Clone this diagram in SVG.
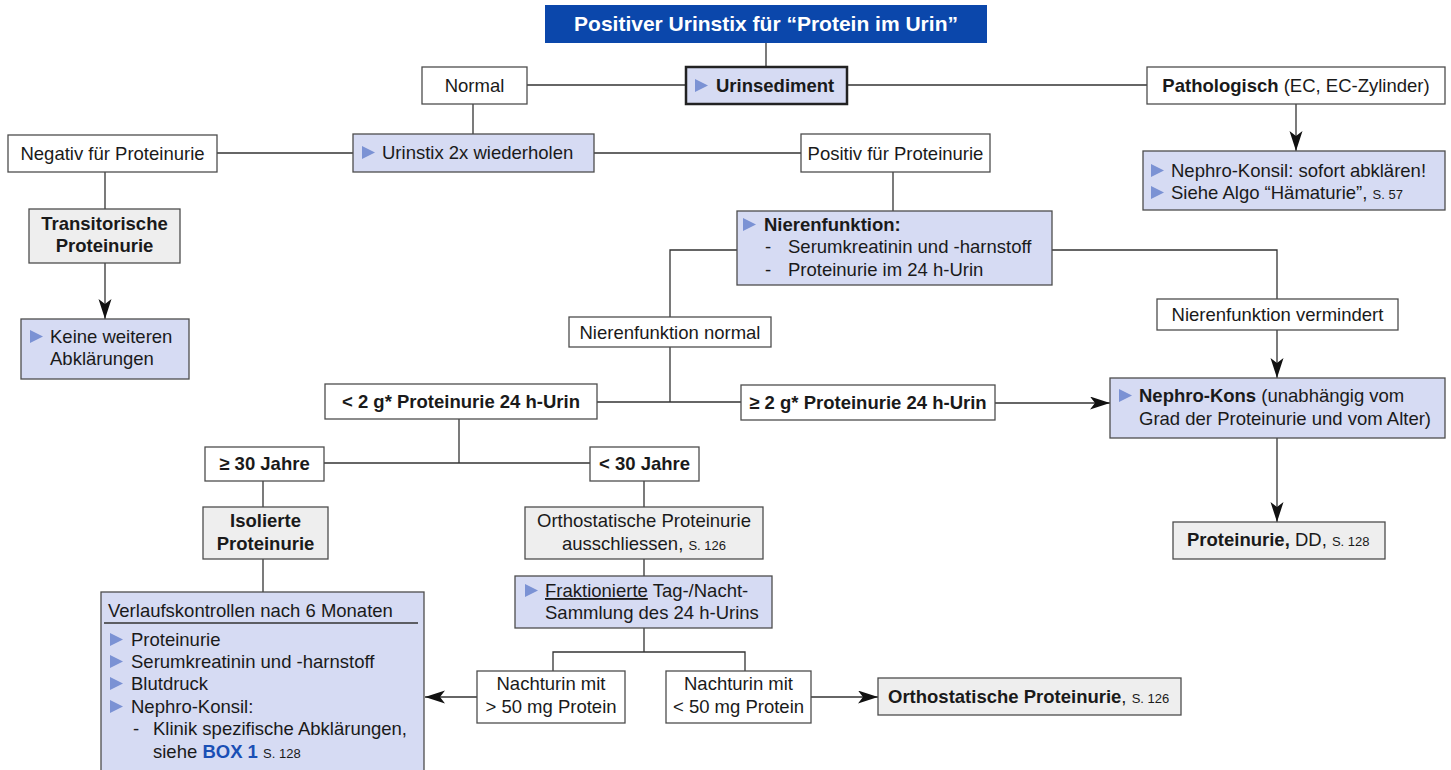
<svg xmlns="http://www.w3.org/2000/svg" xmlns:xlink="http://www.w3.org/1999/xlink" width="1451" height="770" viewBox="0 0 1451 770">
<defs>
<style>
.box{stroke:#4d4d4d;stroke-width:1.3}
.w{fill:#ffffff}
.lav{fill:#d6dbf3}
.gr{fill:#eeeeee}
.t{font-family:"Liberation Sans",Arial,sans-serif;font-size:18.5px;fill:#1a1a1a}
.b{font-weight:bold}
.s{font-size:13px;font-weight:normal}
.c{text-anchor:middle}
.conn{stroke:#333333;stroke-width:1.3;fill:none}
.arr{marker-end:url(#ah)}
</style>
<marker id="ah" markerUnits="userSpaceOnUse" markerWidth="22" markerHeight="14" refX="20" refY="6.5" orient="auto">
<path d="M0,0 L20,6.5 L0,13 L5,6.5 Z" fill="#111111"/>
</marker>
<path id="bul" d="M0,0 L13,6.5 L0,13 Z" fill="#7b92d4"/>
</defs>
<rect width="1451" height="770" fill="#ffffff"/>

<g id="connectors">
<path class="conn" d="M766,43 V67"/>
<path class="conn" d="M527,85 H686"/>
<path class="conn" d="M847,85 H1147"/>
<path class="conn arr" d="M1296,104 V151"/>
<path class="conn" d="M473,104 V134"/>
<path class="conn" d="M217,153 H353"/>
<path class="conn" d="M594,153 H801"/>
<path class="conn" d="M105,172 V209"/>
<path class="conn arr" d="M105,263 V319"/>
<path class="conn" d="M893,172 V211"/>
<path class="conn" d="M737,250 H670 V317"/>
<path class="conn" d="M1052,250 H1277 V299"/>
<path class="conn arr" d="M1277,330 V378"/>
<path class="conn" d="M670,347 V402"/>
<path class="conn" d="M597,402 H741"/>
<path class="conn arr" d="M995,403 H1110"/>
<path class="conn arr" d="M1277,438 V522"/>
<path class="conn" d="M459,419 V463"/>
<path class="conn" d="M324,463 H590"/>
<path class="conn" d="M263,481 V507"/>
<path class="conn" d="M263,559 V592"/>
<path class="conn" d="M644,481 V507"/>
<path class="conn" d="M644,559 V576"/>
<path class="conn" d="M644,628 V652 M553,671 V652 H745 V671"/>
<path class="conn arr" d="M477,697 H425"/>
<path class="conn arr" d="M811,697 H878"/>
</g>

<g id="title">
<rect x="545" y="5" width="442" height="38" fill="#0b47ab"/>
<text class="t b c" x="766" y="31" style="font-size:21px;fill:#ffffff">Positiver Urinstix für “Protein im Urin”</text>
</g>

<g id="urinsediment">
<rect x="686" y="67" width="161" height="37" class="lav" stroke="#222222" stroke-width="2.5"/>
<use xlink:href="#bul" x="695" y="79"/>
<text class="t b" x="716" y="92">Urinsediment</text>
</g>

<g id="normal">
<rect x="422" y="67" width="105" height="37" class="box w"/>
<text class="t c" x="474.5" y="92">Normal</text>
</g>

<g id="pathologisch">
<rect x="1147" y="67" width="298" height="37" class="box w"/>
<text class="t c" x="1296" y="92"><tspan class="b">Pathologisch</tspan> (EC, EC-Zylinder)</text>
</g>

<g id="nephro-konsil-sofort">
<rect x="1143" y="151" width="302" height="59" class="box lav"/>
<use xlink:href="#bul" x="1151" y="164"/>
<text class="t" x="1171" y="177">Nephro-Konsil: sofort abklären!</text>
<use xlink:href="#bul" x="1151" y="186"/>
<text class="t" x="1171" y="199">Siehe Algo “Hämaturie”, <tspan class="s">S. 57</tspan></text>
</g>

<g id="urinstix">
<rect x="353" y="134" width="241" height="38" class="box lav"/>
<use xlink:href="#bul" x="362" y="146"/>
<text class="t" x="382" y="159">Urinstix 2x wiederholen</text>
</g>

<g id="negativ">
<rect x="8" y="135" width="209" height="37" class="box w"/>
<text class="t c" x="112.5" y="160">Negativ für Proteinurie</text>
</g>

<g id="positiv">
<rect x="801" y="134" width="189" height="38" class="box w"/>
<text class="t c" x="895.5" y="160">Positiv für Proteinurie</text>
</g>

<g id="transitorische">
<rect x="29" y="209" width="151" height="54" class="box gr"/>
<text class="t b c" x="104.5" y="230">Transitorische</text>
<text class="t b c" x="104.5" y="252">Proteinurie</text>
</g>

<g id="keine-weiteren">
<rect x="21" y="319" width="168" height="60" class="box lav"/>
<use xlink:href="#bul" x="30" y="330"/>
<text class="t" x="50" y="343">Keine weiteren</text>
<text class="t" x="50" y="365">Abklärungen</text>
</g>

<g id="nierenfunktion">
<rect x="737" y="211" width="315" height="74" class="box lav"/>
<use xlink:href="#bul" x="743" y="218"/>
<text class="t b" x="764" y="231">Nierenfunktion:</text>
<text class="t" x="765" y="253">-</text>
<text class="t" x="788" y="253">Serumkreatinin und -harnstoff</text>
<text class="t" x="765" y="276">-</text>
<text class="t" x="788" y="276">Proteinurie im 24 h-Urin</text>
</g>

<g id="nierenfunktion-normal">
<rect x="569" y="317" width="202" height="30" class="box w"/>
<text class="t c" x="670" y="339">Nierenfunktion normal</text>
</g>

<g id="nierenfunktion-vermindert">
<rect x="1157" y="299" width="241" height="31" class="box w"/>
<text class="t c" x="1277.5" y="321">Nierenfunktion vermindert</text>
</g>

<g id="nephro-kons">
<rect x="1110" y="378" width="335" height="60" class="box lav"/>
<use xlink:href="#bul" x="1119" y="389"/>
<text class="t" x="1139" y="402"><tspan class="b">Nephro-Kons</tspan> (unabhängig vom</text>
<text class="t" x="1139" y="425">Grad der Proteinurie und vom Alter)</text>
</g>

<g id="kleiner-2g">
<rect x="325" y="384" width="272" height="35" class="box w"/>
<text class="t b c" x="461" y="408">&lt; 2 g* Proteinurie 24 h-Urin</text>
</g>

<g id="groesser-2g">
<rect x="741" y="385" width="254" height="35" class="box w"/>
<text class="t b c" x="868" y="409">≥ 2 g* Proteinurie 24 h-Urin</text>
</g>

<g id="proteinurie-dd">
<rect x="1173" y="522" width="212" height="37" class="box gr"/>
<text class="t" x="1187" y="546"><tspan class="b">Proteinurie,</tspan> DD, <tspan class="s">S. 128</tspan></text>
</g>

<g id="ab-30">
<rect x="205" y="447" width="119" height="34" class="box w"/>
<text class="t b c" x="264.5" y="470">≥ 30 Jahre</text>
</g>

<g id="unter-30">
<rect x="590" y="447" width="109" height="34" class="box w"/>
<text class="t b c" x="644.5" y="470">&lt; 30 Jahre</text>
</g>

<g id="isolierte">
<rect x="203" y="507" width="125" height="52" class="box gr"/>
<text class="t b c" x="265.5" y="527">Isolierte</text>
<text class="t b c" x="265.5" y="550">Proteinurie</text>
</g>

<g id="ortho-ausschliessen">
<rect x="525" y="507" width="238" height="52" class="box gr"/>
<text class="t c" x="644" y="527">Orthostatische Proteinurie</text>
<text class="t c" x="644" y="550">ausschliessen, <tspan class="s">S. 126</tspan></text>
</g>

<g id="fraktionierte">
<rect x="515" y="576" width="257" height="52" class="box lav"/>
<use xlink:href="#bul" x="525" y="584"/>
<text class="t" x="545" y="597"><tspan text-decoration="underline">Fraktionierte</tspan> Tag-/Nacht-</text>
<text class="t" x="545" y="619">Sammlung des 24 h-Urins</text>
</g>

<g id="verlaufskontrollen">
<rect x="101" y="592" width="323" height="185" class="box lav"/>
<text class="t" x="108" y="617">Verlaufskontrollen nach 6 Monaten</text>
<path d="M104,623 H418" stroke="#333333" stroke-width="1.3"/>
<use xlink:href="#bul" x="110" y="633"/>
<text class="t" x="131" y="646">Proteinurie</text>
<use xlink:href="#bul" x="110" y="655"/>
<text class="t" x="131" y="668">Serumkreatinin und -harnstoff</text>
<use xlink:href="#bul" x="110" y="677"/>
<text class="t" x="131" y="690">Blutdruck</text>
<use xlink:href="#bul" x="110" y="700"/>
<text class="t" x="131" y="713">Nephro-Konsil:</text>
<text class="t" x="133" y="735">-</text>
<text class="t" x="153" y="735">Klinik spezifische Abklärungen,</text>
<text class="t" x="153" y="758">siehe <tspan class="b" fill="#1a4fb5">BOX 1</tspan> <tspan class="s">S. 128</tspan></text>
</g>

<g id="nachturin-gross">
<rect x="477" y="671" width="148" height="52" class="box w"/>
<text class="t c" x="551" y="690">Nachturin mit</text>
<text class="t c" x="551" y="713">&gt; 50 mg Protein</text>
</g>

<g id="nachturin-klein">
<rect x="666" y="671" width="145" height="52" class="box w"/>
<text class="t c" x="738.5" y="690">Nachturin mit</text>
<text class="t c" x="738.5" y="713">&lt; 50 mg Protein</text>
</g>

<g id="ortho-proteinurie">
<rect x="878" y="678" width="303" height="37" class="box gr"/>
<text class="t" x="888" y="703"><tspan class="b">Orthostatische Proteinurie</tspan>, <tspan class="s">S. 126</tspan></text>
</g>
</svg>
